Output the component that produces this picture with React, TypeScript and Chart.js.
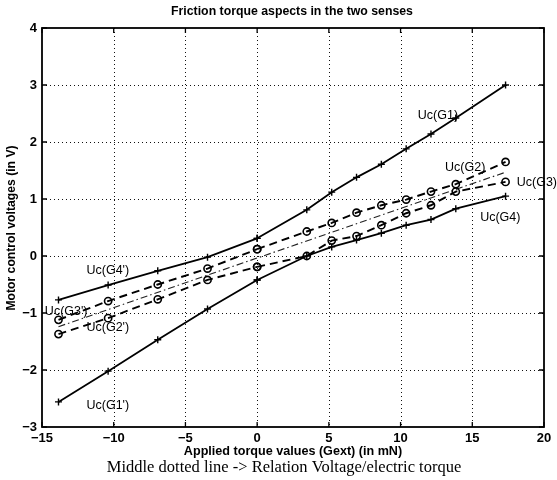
import React, { useEffect, useRef } from "react";
import { Chart, registerables } from "chart.js";
Chart.register(...registerables);

// Applied torque values (Gext), mN
const xNeg = [-13.85, -10.39, -6.93, -3.46, 0];
const xPos = [0, 3.46, 5.2, 6.93, 8.66, 10.39, 12.12, 13.85, 17.32];

// Solid lines, "+" markers
const g1Neg = [-2.56, -2.02, -1.47, -0.93, -0.42];
const g1Pos = [0.31, 0.81, 1.12, 1.38, 1.61, 1.88, 2.14, 2.42, 3.0];
const g4Neg = [-0.77, -0.51, -0.26, -0.02, 0.31];
const g4Pos = [-0.42, 0.0, 0.16, 0.28, 0.4, 0.54, 0.64, 0.83, 1.05];

// Dashed lines, "o" markers
const g3Neg = [-1.12, -0.79, -0.5, -0.22, 0.12];
const g2Neg = [-1.37, -1.09, -0.76, -0.42, -0.19];
const g2Pos = [0.12, 0.43, 0.58, 0.76, 0.89, 0.99, 1.13, 1.26, 1.65];
const g3Pos = [-0.19, 0.0, 0.27, 0.35, 0.54, 0.75, 0.89, 1.13, 1.3];

// Middle dash-dot line (relation voltage / electric torque)
const midX = [-13.85, 17.32];
const midY = [-1.24, 1.47];

const xTicks = [-15, -10, -5, 0, 5, 10, 15, 20];
const yTicks = [-3, -2, -1, 0, 1, 2, 3, 4];

const curveLabels = ["Uc(G1)", "Uc(G2)", "Uc(G3)", "Uc(G4)", "Uc(G4')", "Uc(G3')", "Uc(G2')", "Uc(G1')"];
const labelX = [11.2, 13.1, 18.1, 15.55, -11.9, -14.8, -11.9, -11.9];
const labelY = [2.47, 1.56, 1.28, 0.67, -0.25, -0.98, -1.26, -2.63];

const titleText = "Friction torque aspects in the two senses";
const xTitle = "Applied torque values (Gext) (in mN)";
const yTitle = "Motor control voltages (in V)";
const caption = "Middle dotted line -> Relation Voltage/electric torque";

const pts = (xs: number[], ys: number[]) => xs.map((x, i) => ({ x, y: ys[i] }));

export default function App() {
  const ref = useRef<HTMLCanvasElement | null>(null);
  useEffect(() => {
    if (!ref.current) return;
    const solid = (data: any[]) => ({
      data,
      showLine: true,
      borderColor: "#000",
      backgroundColor: "#000",
      borderWidth: 1.8,
      pointStyle: "cross",
      pointRadius: 3.5,
      pointBorderWidth: 1.4,
      pointBorderColor: "#000",
    });
    const dashed = (data: any[]) => ({
      data,
      showLine: true,
      borderColor: "#000",
      backgroundColor: "#fff",
      borderWidth: 1.9,
      borderDash: [8, 5],
      pointStyle: "circle",
      pointRadius: 3.6,
      pointBorderWidth: 1.6,
      pointBorderColor: "#000",
      pointBackgroundColor: "rgba(255,255,255,0)",
    });
    const frame = {
      id: "frame",
      beforeDatasetsDraw(chart: any) {
        const { ctx, chartArea: a, scales } = chart;
        ctx.save();
        ctx.strokeStyle = "#111";
        ctx.lineWidth = 1;
        ctx.setLineDash([1, 3]);
        xTicks.slice(1, -1).forEach((v) => {
          const p = Math.round(scales.x.getPixelForValue(v)) + 0.5;
          ctx.beginPath();
          ctx.moveTo(p, a.top);
          ctx.lineTo(p, a.bottom);
          ctx.stroke();
        });
        yTicks.slice(1, -1).forEach((v) => {
          const p = Math.round(scales.y.getPixelForValue(v)) + 0.5;
          ctx.beginPath();
          ctx.moveTo(a.left, p);
          ctx.lineTo(a.right, p);
          ctx.stroke();
        });
        ctx.restore();
      },
      afterDraw(chart: any) {
        const { ctx, chartArea: a, scales } = chart;
        ctx.save();
        ctx.strokeStyle = "#000";
        ctx.lineWidth = 1.8;
        ctx.setLineDash([]);
        ctx.strokeRect(a.left, a.top, a.right - a.left, a.bottom - a.top);
        ctx.lineWidth = 1.3;
        const tl = 5;
        xTicks.forEach((v) => {
          const p = scales.x.getPixelForValue(v);
          ctx.beginPath();
          ctx.moveTo(p, a.bottom);
          ctx.lineTo(p, a.bottom - tl);
          ctx.moveTo(p, a.top);
          ctx.lineTo(p, a.top + tl);
          ctx.stroke();
        });
        yTicks.forEach((v) => {
          const p = scales.y.getPixelForValue(v);
          ctx.beginPath();
          ctx.moveTo(a.left, p);
          ctx.lineTo(a.left + tl, p);
          ctx.moveTo(a.right, p);
          ctx.lineTo(a.right - tl, p);
          ctx.stroke();
        });
        ctx.fillStyle = "#000";
        ctx.textBaseline = "middle";
        ctx.font = "12.5px 'Liberation Sans', Arial, sans-serif";
        ctx.textAlign = "left";
        curveLabels.forEach((t, i) => {
          ctx.fillText(t, scales.x.getPixelForValue(labelX[i]), scales.y.getPixelForValue(labelY[i]));
        });
        ctx.textAlign = "center";
        ctx.font = "bold 12.3px 'Liberation Sans', Arial, sans-serif";
        ctx.fillText(titleText, 292, 12);
        ctx.font = "bold 12.6px 'Liberation Sans', Arial, sans-serif";
        ctx.fillText(xTitle, 293, 452);
        ctx.font = "16.5px 'Liberation Serif', 'Times New Roman', serif";
        ctx.fillText(caption, 284, 468);
        ctx.save();
        ctx.translate(12, 228);
        ctx.rotate(-Math.PI / 2);
        ctx.font = "bold 12.2px 'Liberation Sans', Arial, sans-serif";
        ctx.fillText(yTitle, 0, 0);
        ctx.restore();
        ctx.restore();
      },
    };
    const minus = (v: any) => String(v).replace("-", "\u2212");
    const chart = new Chart(ref.current, {
      type: "scatter",
      data: {
        datasets: [
          solid(pts(xNeg, g1Neg)),
          solid(pts(xPos, g1Pos)),
          solid(pts(xNeg, g4Neg)),
          solid(pts(xPos, g4Pos)),
          dashed(pts(xNeg, g3Neg)),
          dashed(pts(xNeg, g2Neg)),
          dashed(pts(xPos, g2Pos)),
          dashed(pts(xPos, g3Pos)),
          {
            data: pts(midX, midY),
            showLine: true,
            borderColor: "#222",
            borderWidth: 1.1,
            borderDash: [7, 3, 1.5, 3],
            pointRadius: 0,
          },
        ] as any,
      },
      options: {
        responsive: false,
        animation: false,
        layout: { padding: { top: 28, right: 13, left: 0, bottom: 0 } },
        plugins: { legend: { display: false }, tooltip: { enabled: false }, title: { display: false } },
        scales: {
          x: {
            type: "linear",
            min: -15,
            max: 20,
            afterBuildTicks: (s: any) => {
              s.ticks = xTicks.map((v) => ({ value: v }));
            },
            afterFit: (s: any) => {
              s.height = 53;
            },
            grid: { display: false, drawTicks: false },
            border: { display: false },
            ticks: {
              padding: 4,
              color: "#000",
              font: { family: "'Liberation Sans', Arial, sans-serif", size: 13, weight: "bold" },
              callback: minus,
              maxRotation: 0,
            },
          },
          y: {
            type: "linear",
            min: -3,
            max: 4,
            afterBuildTicks: (s: any) => {
              s.ticks = yTicks.map((v) => ({ value: v }));
            },
            afterFit: (s: any) => {
              s.width = 42;
            },
            grid: { display: false, drawTicks: false },
            border: { display: false },
            ticks: {
              padding: 5,
              color: "#000",
              font: { family: "'Liberation Sans', Arial, sans-serif", size: 13, weight: "bold" },
              callback: minus,
            },
          },
        },
      } as any,
      plugins: [frame],
    });
    return () => chart.destroy();
  }, []);
  return (
    <div style={{ position: "absolute", left: 0, top: 0, width: 557, height: 480, background: "#fff" }}>
      <canvas ref={ref} width={557} height={480} />
    </div>
  );
}
